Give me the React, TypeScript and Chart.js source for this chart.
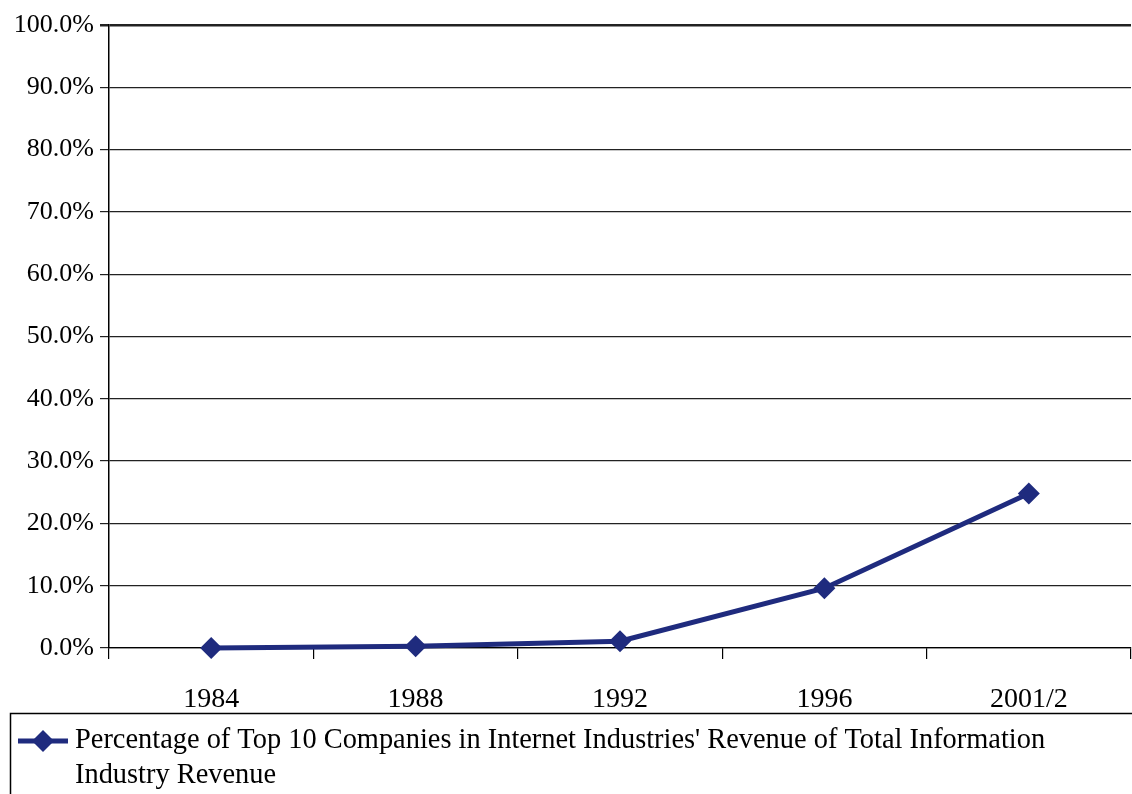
import React, { useEffect, useRef } from "react";
import { Chart, registerables } from "chart.js";

Chart.register(...registerables);

const categories = ["1984", "1988", "1992", "1996", "2001/2"];
const values = [0.0, 0.3, 1.1, 9.6, 24.8];
const seriesLabel =
  "Percentage of Top 10 Companies in Internet Industries' Revenue of Total Information Industry Revenue";
const yTicks = [0, 10, 20, 30, 40, 50, 60, 70, 80, 90, 100];

const NAVY = "#1f2b7e";
const SERIF = "'Liberation Serif', 'Times New Roman', serif";

const legendPlugin = {
  id: "boxLegend",
  afterDraw(chart: any) {
    const ctx = chart.ctx as CanvasRenderingContext2D;
    const ds = chart.data.datasets[0];
    ctx.save();
    ctx.strokeStyle = "#000";
    ctx.lineWidth = 1.5;
    ctx.strokeRect(10.5, 713.5, 1140, 100);
    const my = 741;
    ctx.strokeStyle = NAVY;
    ctx.lineWidth = 5;
    ctx.beginPath();
    ctx.moveTo(18, my);
    ctx.lineTo(68, my);
    ctx.stroke();
    ctx.fillStyle = NAVY;
    ctx.beginPath();
    ctx.moveTo(43, my - 11);
    ctx.lineTo(54, my);
    ctx.lineTo(43, my + 11);
    ctx.lineTo(32, my);
    ctx.closePath();
    ctx.fill();
    ctx.font = `28.4px ${SERIF}`;
    ctx.fillStyle = "#000";
    ctx.textBaseline = "middle";
    const words = String(ds.label).split(" ");
    const maxW = 1040;
    const lines: string[] = [];
    let cur = "";
    for (const w of words) {
      const t = cur ? cur + " " + w : w;
      if (ctx.measureText(t).width > maxW && cur) {
        lines.push(cur);
        cur = w;
      } else cur = t;
    }
    if (cur) lines.push(cur);
    lines.forEach((l, i) => ctx.fillText(l, 75, my + i * 35));
    ctx.restore();
  },
};

export default function App() {
  const ref = useRef<HTMLCanvasElement>(null);
  useEffect(() => {
    document.body.style.margin = "0";
    const chart = new Chart(ref.current!, {
      type: "line",
      data: {
        labels: categories,
        datasets: [
          {
            label: seriesLabel,
            data: values,
            borderColor: NAVY,
            backgroundColor: NAVY,
            borderWidth: 5,
            pointStyle: "rectRot",
            pointRadius: 11,
            pointBorderWidth: 0,
            pointBackgroundColor: NAVY,
            tension: 0,
            clip: false,
          },
        ],
      },
      options: {
        animation: false,
        responsive: false,
        maintainAspectRatio: false,
        layout: { autoPadding: false, padding: { top: 25, bottom: 80, left: 0, right: 1 } },
        plugins: {
          legend: { display: false },
          tooltip: { enabled: false },
          title: { display: false },
        },
        scales: {
          x: {
            type: "category",
            offset: true,
            afterFit: (s: any) => {
              s.height = 66;
              s.paddingLeft = 0;
              s.paddingRight = 0;
            },
            grid: {
              offset: true,
              drawOnChartArea: false,
              drawTicks: true,
              tickLength: 11,
              color: "#000",
              lineWidth: 1.2,
            },
            border: { display: true, color: "#000", width: 1.2 },
            ticks: {
              color: "#000",
              padding: 24,
              font: { family: SERIF, size: 28 },
              maxRotation: 0,
            },
          },
          y: {
            min: 0,
            max: 100,
            afterFit: (s: any) => {
              s.width = 109;
            },
            afterBuildTicks: (s: any) => {
              s.ticks = yTicks.map((v) => ({ value: v }));
            },
            grid: {
              color: "#222",
              lineWidth: (c: any) => (c.tick && c.tick.value === 100 ? 2.5 : 1.2),
              drawTicks: true,
              tickLength: 9,
            },
            border: { display: true, color: "#000", width: 1.5 },
            ticks: {
              color: "#000",
              padding: 6,
              font: { family: SERIF, size: 26 },
              callback: (v: any) => Number(v).toFixed(1) + "%",
            },
          },
        },
      },
      plugins: [legendPlugin],
    });
    return () => chart.destroy();
  }, []);
  return (
    <div style={{ width: 1132, height: 794 }}>
      <canvas ref={ref} width={1132} height={794} style={{ display: "block" }} />
    </div>
  );
}
